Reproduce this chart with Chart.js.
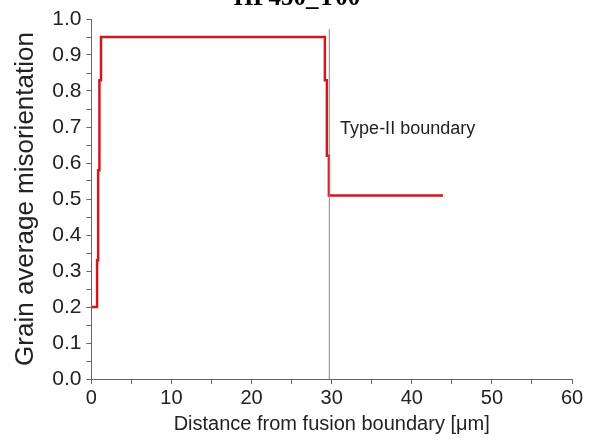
<!DOCTYPE html>
<html>
<head>
<meta charset="utf-8">
<script src="https://cdn.jsdelivr.net/npm/chart.js@4/dist/chart.umd.min.js"></script>
<style>
  html, body { margin: 0; padding: 0; background: #fff; }
  #wrap { width: 592px; height: 442px; }
</style>
</head>
<body>
<div id="wrap"><canvas id="GamChart" width="592" height="442"></canvas></div>
<script>
"use strict";

// profile vertices (distance in um, misorientation)
const distance = [0, 0.71, 0.71, 0.84, 0.84, 1.0, 1.0, 1.2, 1.2, 29.15, 29.15, 29.4, 29.4, 29.65, 29.65, 43.9];
const misorientation = [0.2, 0.2, 0.33, 0.33, 0.58, 0.58, 0.83, 0.83, 0.95, 0.95, 0.83, 0.83, 0.62, 0.62, 0.51, 0.51];
const boundaryX = [29.7, 29.7];
const boundaryY = [0, 0.972];
const titleText = "HP450_T00";
const noteText = "Type-II boundary";

function toPoints(xs, ys) {
    let pts = [];
    for (let i = 0; i < xs.length; i++) {
        pts.push({ x: xs[i], y: ys[i] });
    }
    return pts;
}

const extraText = {
    id: "extraText",
    afterDraw(chart) {
        const ctx = chart.ctx;
        const xs = chart.scales.x;
        const ys = chart.scales.y;
        ctx.save();
        ctx.fillStyle = "#000";
        ctx.font = "bold 25px 'Liberation Serif'";
        ctx.textAlign = "center";
        ctx.textBaseline = "alphabetic";
        ctx.fillText(titleText, 297, 5);
        ctx.fillStyle = "#222";
        ctx.font = "18px 'Liberation Sans'";
        ctx.textAlign = "left";
        ctx.textBaseline = "middle";
        ctx.fillText(noteText, xs.getPixelForValue(31.05), ys.getPixelForValue(0.694));
        ctx.restore();
    }
};

let gam_chart = new Chart(document.getElementById("GamChart"), {
    type: "line",
    data: {
        datasets: [{
            data: toPoints(boundaryX, boundaryY),
            borderColor: "#888",
            borderWidth: 1,
            pointRadius: 0
        }, {
            data: toPoints(distance, misorientation),
            borderColor: "#d0171f",
            borderWidth: 2.5,
            pointRadius: 0,
            tension: 0
        }]
    },
    options: {
        responsive: false,
        animation: false,
        layout: {
            padding: { left: 10, right: 20, top: 19, bottom: 6 }
        },
        plugins: {
            legend: { display: false },
            tooltip: { enabled: false }
        },
        scales: {
            x: {
                type: "linear",
                min: 0,
                max: 60,
                ticks: {
                    stepSize: 5,
                    autoSkip: false,
                    maxRotation: 0,
                    color: "#222",
                    font: { family: "'Liberation Sans'", size: 20 },
                    padding: 2,
                    callback: function (v) { return v % 10 === 0 ? v : ""; }
                },
                grid: {
                    drawOnChartArea: false,
                    drawTicks: true,
                    tickLength: 5,
                    color: "#666"
                },
                border: { color: "#666", width: 1 },
                title: {
                    display: true,
                    text: "Distance from fusion boundary [\u03bcm]",
                    color: "#222",
                    font: { family: "'Liberation Sans'", size: 20 },
                    padding: { top: 0, bottom: 0 }
                }
            },
            y: {
                min: 0,
                max: 1.0,
                ticks: {
                    stepSize: 0.05,
                    autoSkip: false,
                    color: "#222",
                    font: { family: "'Liberation Sans'", size: 21 },
                    padding: 5,
                    callback: function (v) {
                        let k = Math.round(v * 100);
                        return k % 10 === 0 ? (k / 100).toFixed(1) : "";
                    }
                },
                grid: {
                    drawOnChartArea: false,
                    drawTicks: true,
                    tickLength: 5,
                    color: "#666"
                },
                border: { color: "#666", width: 1 },
                title: {
                    display: true,
                    text: "Grain average misorientation",
                    color: "#222",
                    font: { family: "'Liberation Sans'", size: 26 },
                    padding: { top: 0, bottom: 6 }
                }
            }
        }
    },
    plugins: [extraText]
});
</script>
</body>
</html>
